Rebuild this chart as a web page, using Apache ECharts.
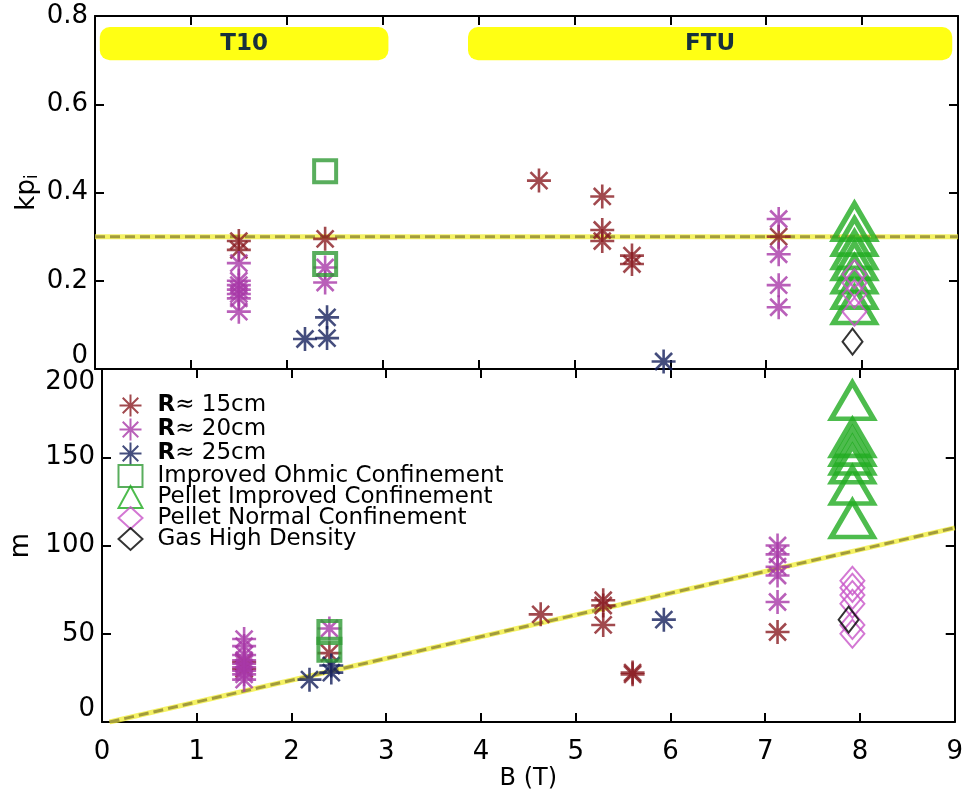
<!DOCTYPE html>
<html><head><meta charset="utf-8">
<script src="https://cdn.jsdelivr.net/npm/echarts@6/dist/echarts.min.js"></script>
<style>html,body{margin:0;padding:0;background:#fff}#c{width:966px;height:799px}</style>
</head><body><div id="c"></div>
<script>
// ---- data ----
const seriesNames = ['R≈ 15cm','R≈ 20cm','R≈ 25cm','Improved Ohmic Confinement','Pellet Improved Confinement','Pellet Normal Confinement','Gas High Density'];

// top panel: kp_i vs B
const R15_B_top = [1.5,1.5,2.4,4.63,5.29,5.29,5.29,5.6,5.6,7.13];
const R15_kp    = [0.29,0.27,0.295,0.427,0.391,0.315,0.29,0.257,0.238,0.30];
const R20_B_top = [1.5,1.5,1.5,1.5,1.5,1.5,1.5,2.4,2.4,7.13,7.13,7.13,7.13];
const R20_kp    = [0.24,0.20,0.19,0.18,0.17,0.16,0.13,0.23,0.196,0.34,0.26,0.19,0.14];
const R25_B_top = [2.19,2.42,2.42,5.93];
const R25_kp    = [0.068,0.117,0.07,0.017];
const IOC_B_top = [2.4,2.4];
const IOC_kp    = [0.448,0.238];
const PIC_B_top = [7.92,7.92,7.92,7.92,7.92,7.92,7.92];
const PIC_kp    = [0.334,0.30,0.27,0.245,0.215,0.18,0.145];
const PNC_B_top = [7.92,7.92,7.92,7.92];
const PNC_kp    = [0.215,0.195,0.17,0.13];
const GHD_B_top = [7.9];
const GHD_kp    = [0.062];

// bottom panel: m vs B
const R15_B_bot = [1.5,1.5,2.4,4.63,5.29,5.29,5.29,5.6,5.6,7.13];
const R15_m     = [34,30,39,61,69,66,55,28,27,51];
const R20_B_bot = [1.5,1.5,1.5,1.5,1.5,1.5,1.5,1.5,1.5,2.4,7.13,7.13,7.13,7.13,7.13];
const R20_m     = [47,43,38,35,33,31,29,27,24,53,100,95,88,83,68];
const R25_B_bot = [2.19,2.42,2.42,5.93];
const R25_m     = [24,32,28,58];
const IOC_B_bot = [2.4,2.4];
const IOC_m     = [51,41];
const PIC_B_bot = [7.92,7.92,7.92,7.92,7.92,7.92,7.92];
const PIC_m     = [182,161,156,151,146,134,115];
const PNC_B_bot = [7.92,7.92,7.92,7.92,7.92,7.92];
const PNC_m     = [80,76,72,67,55,50];
const GHD_B_bot = [7.88];
const GHD_m     = [58];

// reference lines
const refTop_B  = [0, 9];
const refTop_kp = [0.3, 0.3];
const refBot_B  = [0.08, 9];
const refBot_m  = [0, 110];

// machine bands (top panel)
const bandNames = ['T10','FTU'];
const bandStart = [0.05, 3.89];
const bandEnd   = [3.06, 8.94];
const bandTop = 0.775, bandBottom = 0.70;

// axis ticks
const xTicks = [0,1,2,3,4,5,6,7,8,9];
const kpTicks = ['0','0.2','0.4','0.6','0.8'];
const mTicks = ['0','50','100','150','200'];

// ---- chart ----
const zip = (a,b) => a.map((v,i)=>[v,b[i]]);
const STAR = 'path://M0,-10L0,10M-10,0L10,0M-7.07,-7.07L7.07,7.07M-7.07,7.07L7.07,-7.07';
const FONT = 'DejaVu Sans';
const CLEAR = 'rgba(255,255,255,0)';

const styles = {
  'R≈ 15cm': {symbol: STAR, symbolSize: 24, itemStyle:{color:'none', borderColor:'#8a1b22', borderWidth:2.6}},
  'R≈ 20cm': {symbol: STAR, symbolSize: 24, itemStyle:{color:'none', borderColor:'#a838a8', borderWidth:2.6}},
  'R≈ 25cm': {symbol: STAR, symbolSize: 24, itemStyle:{color:'none', borderColor:'#15215c', borderWidth:2.6}},
  'Improved Ohmic Confinement': {symbol:'rect', symbolSize: 22, itemStyle:{color:CLEAR, borderColor:'#2f9a35', borderWidth:4}},
  'Pellet Improved Confinement': {symbol:'triangle', symbolSize: [42,36], itemStyle:{color:CLEAR, borderColor:'#20ab20', borderWidth:5}},
  'Pellet Normal Confinement': {symbol:'diamond', symbolSize: [24,28], itemStyle:{color:CLEAR, borderColor:'#c855c8', borderWidth:2}},
  'Gas High Density': {symbol:'diamond', symbolSize: [20,26], itemStyle:{color:CLEAR, borderColor:'#000000', borderWidth:2}}
};

function sc(name, xi, yi, data){
  return Object.assign({type:'scatter', name, xAxisIndex:xi, yAxisIndex:yi, data, z:3, animation:false}, styles[name]);
}
function refLine(xi, yi, data){
  return [
    {type:'line', xAxisIndex:xi, yAxisIndex:yi, data, symbol:'none', silent:true, z:1, animation:false,
     lineStyle:{color:'#f2ee30', width:5, opacity:0.75}},
    {type:'line', xAxisIndex:xi, yAxisIndex:yi, data, symbol:'none', silent:true, z:2, animation:false,
     lineStyle:{color:'#a39c3c', width:3, type:[10,5]}}
  ];
}

const tickStyle = {show:true, inside:true, length:9, lineStyle:{color:'#000', width:2}};
const lineStyle = {show:true, onZero:false, lineStyle:{color:'#000', width:2}};
function xAx(grid, pos, labels){
  return {type:'value', gridIndex:grid, position:pos, min:0, max:9, interval:1,
    axisLine:lineStyle, axisTick:tickStyle, splitLine:{show:false},
    axisLabel: labels ? {show:true, fontSize:26, fontFamily:FONT, color:'#000', margin:17,
       formatter:v=>String(xTicks[Math.round(v)])} : {show:false},
    name: labels ? 'B (T)' : '', nameLocation:'middle', nameGap:45,
    nameTextStyle:{fontSize:24, fontFamily:FONT, color:'#000'}};
}

const option = {
  backgroundColor:'#fff',
  animation:false,
  grid:[
    {left:95, right:8, top:16, height:353, show:false},
    {left:95, right:8, top:369, height:353, show:false}
  ],
  legend:{
    data: seriesNames, orient:'vertical', left:112, top:387, itemGap:-3,
    itemWidth:24, itemHeight:22,
    formatter: n => n.charAt(0)==='R' ? '{b|R}{n|'+n.slice(1)+'}' : '{n|'+n+'}',
    textStyle:{fontSize:23, fontFamily:FONT, color:'#000', lineHeight:22, padding:[0,0,0,10],
      rich:{b:{fontSize:23, fontFamily:FONT, fontWeight:'bold', color:'#000', lineHeight:22},
            n:{fontSize:23, fontFamily:FONT, color:'#000', lineHeight:22}}}
  },
  xAxis:[xAx(0,'bottom',false), xAx(0,'top',false), xAx(1,'bottom',true), xAx(1,'top',false)],
  yAxis:[
    {type:'value', gridIndex:0, position:'left', min:0, max:0.8, interval:0.2,
     axisLine:lineStyle, axisTick:tickStyle, splitLine:{show:false},
     axisLabel:{fontSize:26, fontFamily:FONT, color:'#000', margin:7,
       formatter:v=>kpTicks[Math.round(v/0.2)], verticalAlignMinLabel:'bottom'},
     name:'{a|kp}{s|i}', nameLocation:'middle', nameGap:54, nameRotate:90, nameMoveOverlap:false,
     nameTextStyle:{fontSize:26, fontFamily:FONT, color:'#000',
       rich:{a:{fontSize:26, fontFamily:FONT, color:'#000'}, s:{fontSize:17, fontFamily:FONT, color:'#000', padding:[10,0,0,0]}}}},
    {type:'value', gridIndex:0, position:'right', min:0, max:0.8, interval:0.2,
     axisLine:lineStyle, axisTick:tickStyle, splitLine:{show:false}, axisLabel:{show:false}},
    {type:'value', gridIndex:1, position:'left', min:0, max:200, interval:50,
     axisLine:lineStyle, axisTick:tickStyle, splitLine:{show:false},
     axisLabel:{fontSize:26, fontFamily:FONT, color:'#000', margin:7,
       formatter:v=>mTicks[Math.round(v/50)], verticalAlignMinLabel:'bottom', verticalAlignMaxLabel:'top'},
     name:'m', nameLocation:'middle', nameGap:68, nameRotate:90,
     nameTextStyle:{fontSize:26, fontFamily:FONT, color:'#000'}},
    {type:'value', gridIndex:1, position:'right', min:0, max:200, interval:50,
     axisLine:lineStyle, axisTick:tickStyle, splitLine:{show:false}, axisLabel:{show:false}}
  ],
  series:[
    ...refLine(0,0,zip(refTop_B, refTop_kp)),
    ...refLine(2,2,zip(refBot_B, refBot_m)),
    {type:'custom', xAxisIndex:0, yAxisIndex:0, z:1, silent:true, animation:false,
     data: bandNames.map((n,i)=>[bandStart[i], bandEnd[i]]),
     renderItem:(params, api)=>{
       const p0 = api.coord([api.value(0), bandTop]);
       const p1 = api.coord([api.value(1), bandBottom]);
       return {type:'group', children:[
         {type:'rect', shape:{x:p0[0], y:p0[1], width:p1[0]-p0[0], height:p1[1]-p0[1], r:10}, style:{fill:'#ffff14'}},
         {type:'text', style:{text:bandNames[params.dataIndex], x:(p0[0]+p1[0])/2, y:(p0[1]+p1[1])/2,
            align:'center', verticalAlign:'middle', font:'bold 23px "DejaVu Sans"', fill:'#17303c'}}
       ]};
     }},
    sc('R≈ 15cm',0,0,zip(R15_B_top,R15_kp)),
    sc('R≈ 20cm',0,0,zip(R20_B_top,R20_kp)),
    sc('R≈ 25cm',0,0,zip(R25_B_top,R25_kp)),
    sc('Improved Ohmic Confinement',0,0,zip(IOC_B_top,IOC_kp)),
    sc('Pellet Improved Confinement',0,0,zip(PIC_B_top,PIC_kp)),
    sc('Pellet Normal Confinement',0,0,zip(PNC_B_top,PNC_kp)),
    sc('Gas High Density',0,0,zip(GHD_B_top,GHD_kp)),
    sc('R≈ 15cm',2,2,zip(R15_B_bot,R15_m)),
    sc('R≈ 20cm',2,2,zip(R20_B_bot,R20_m)),
    sc('R≈ 25cm',2,2,zip(R25_B_bot,R25_m)),
    sc('Improved Ohmic Confinement',2,2,zip(IOC_B_bot,IOC_m)),
    sc('Pellet Improved Confinement',2,2,zip(PIC_B_bot,PIC_m)),
    sc('Pellet Normal Confinement',2,2,zip(PNC_B_bot,PNC_m)),
    sc('Gas High Density',2,2,zip(GHD_B_bot,GHD_m))
  ]
};
const chart = echarts.init(document.getElementById('c'), null, {renderer:'canvas'});
chart.setOption(option);
</script></body></html>
